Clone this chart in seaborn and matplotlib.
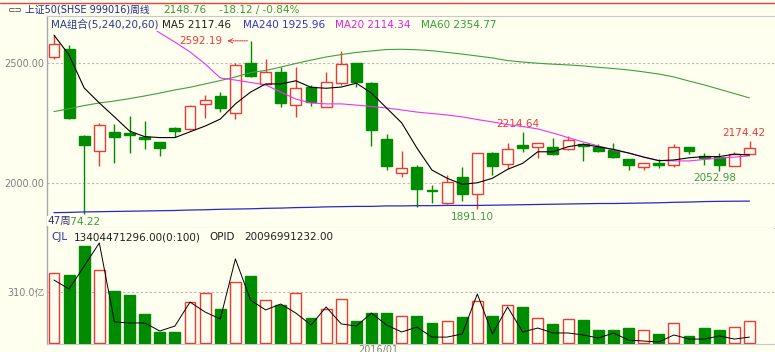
import numpy as np
import pandas as pd
import matplotlib
matplotlib.use("Agg")
import matplotlib.pyplot as plt
import seaborn as sns

# weekly candles, 上证50 (SHSE 999016)
opens = [2524, 2558, 2197, 2134, 2214, 2208, 2191, 2170, 2231, 2224,
         2330, 2364, 2293, 2499, 2411, 2464, 2325, 2399, 2318, 2416,
         2499, 2418, 2183, 2042, 2069, 1972, 1917, 2027, 1954, 2125,
         2079, 2158, 2152, 2152, 2141, 2163, 2152, 2138, 2100, 2069,
         2083, 2076, 2150, 2113, 2108, 2073, 2122]
highs = [2615, 2575, 2201, 2249, 2246, 2280, 2260, 2173, 2235, 2324,
         2367, 2381, 2501, 2592.19, 2515, 2482, 2482, 2409, 2464, 2551,
         2502, 2420, 2205, 2135, 2076, 1992, 2034, 2066, 2127, 2131,
         2166, 2214.64, 2169, 2187, 2197, 2169, 2162, 2166, 2101, 2084,
         2100, 2162, 2152, 2127, 2127, 2131, 2174.42]
lows = [2515, 2266, 1874.22, 2072, 2083, 2127, 2143, 2113, 2191, 2221,
        2270, 2298, 2266, 2443, 2408, 2318, 2277, 2321, 2316, 2409,
        2399, 2155, 2055, 2025, 1903, 1917, 1915, 1928, 1891.10, 2034,
        2058, 2131, 2104, 2118, 2138, 2094, 2131, 2104, 2055, 2055,
        2062, 2066, 2122, 2076, 2052.98, 2072, 2121]
closes = [2579, 2270, 2159, 2242, 2194, 2200, 2186, 2145, 2216, 2321,
          2345, 2312, 2492, 2447, 2464, 2335, 2397, 2339, 2420, 2495,
          2420, 2222, 2072, 2062, 1975, 1967, 2004, 1956, 2125, 2073,
          2141, 2147, 2166, 2122, 2180, 2156, 2134, 2108, 2076, 2083,
          2075, 2152, 2133, 2105, 2076, 2122, 2148.76]

ma5 = [2616, 2533, 2396, 2334, 2276, 2217, 2194, 2190, 2190, 2214,
       2238, 2267, 2330, 2379, 2413, 2413, 2426, 2399, 2395, 2400,
       2416, 2375, 2313, 2251, 2147, 2055, 2021, 1996, 2002, 2021,
       2058, 2083, 2131, 2131, 2152, 2162, 2152, 2141, 2126, 2109,
       2094, 2097, 2106, 2111, 2111, 2121, 2117.46]
ma20 = [np.nan] * 6 + [
        2666, 2625, 2587, 2546,
        2496, 2438, 2429, 2419, 2409, 2379, 2350, 2334, 2330, 2330,
        2325, 2319, 2313, 2305, 2296, 2290, 2284, 2276, 2265, 2255,
        2244, 2236, 2226, 2209, 2190, 2172, 2155, 2138, 2126, 2109,
        2095, 2093, 2093, 2099, 2105, 2109, 2114.34]
ma60 = [2298, 2310, 2323, 2334, 2342, 2352, 2363, 2375, 2388, 2399,
        2413, 2427, 2442, 2460, 2469, 2483, 2498, 2512, 2525, 2535,
        2544, 2550, 2556, 2557, 2555, 2551, 2544, 2537, 2529, 2521,
        2510, 2504, 2499, 2495, 2492, 2488, 2482, 2477, 2471, 2463,
        2454, 2442, 2425, 2409, 2391, 2373, 2354.77]
ma240 = [1878, 1879, 1881, 1882, 1883, 1884, 1885, 1886, 1887, 1889,
         1890, 1892, 1893, 1894, 1896, 1897, 1899, 1900, 1902, 1903,
         1904, 1904, 1906, 1906, 1907, 1907, 1908, 1908, 1908, 1909,
         1910, 1911, 1912, 1913, 1914, 1915, 1916, 1916, 1917, 1918,
         1919, 1921, 1922, 1924, 1925, 1925.5, 1925.96]

# 成交量 (亿)
volume = [426, 413, 590, 444, 316, 292, 176, 67, 67, 249,
          304, 207, 371, 407, 261, 231, 304, 152, 207, 268,
          134, 182, 182, 164, 164, 122, 134, 158, 255, 164,
          231, 219, 152, 116, 146, 140, 79, 79, 91, 79,
          55, 122, 43, 91, 79, 97, 134]
vol_line = [383, 328, 468, 608, 128, 122, 122, 73, 103, 249,
            188, 146, 511, 261, 201, 237, 182, 109, 219, 116,
            103, 182, 109, 67, 97, 36, 36, 55, 298, 55,
            219, 67, 91, 61, 61, 49, 30, 61, 18, 12,
            6, 49, 24, 24, 43, 24, 36]

bg = "#fffff0"
red = "#f03838"
green = "#008c00"
lbl_green = "#3c9c3c"
grey = "#808080"

sns.set_style("white")
plt.rcParams["font.family"] = ["DejaVu Sans", "Noto Sans CJK SC"]

W, H = 775, 352
fig = plt.figure(figsize=(W / 100, H / 100), dpi=100, facecolor=bg)


def box(l, t, r, b):
    return [l / W, 1 - b / H, (r - l) / W, (b - t) / H]


def ftext(x, y, s, color, size=7.5, **kw):
    return fig.text(x / W, 1 - y / H, s, color=color, fontsize=size, va="center", **kw)


ax = fig.add_axes(box(47, 16, 774, 228))
axv = fig.add_axes(box(47, 228, 774, 344))
for a in (ax, axv):
    a.set_facecolor(bg)

idx = np.arange(len(opens))
df = pd.DataFrame({"week": idx, "MA5": ma5, "MA20": ma20, "MA60": ma60,
                   "MA240": ma240, "vol": volume, "vol_line": vol_line})

# candles
for i in idx:
    o, h, l, c = opens[i], highs[i], lows[i], closes[i]
    up = c >= o
    col = red if up else green
    ax.vlines(i, l, h, color=col, lw=1, zorder=2)
    lo, hi = min(o, c), max(o, c)
    ax.bar(i, max(hi - lo, 3), bottom=lo, width=0.72,
           facecolor=bg if up else green, edgecolor=col, lw=1, zorder=3)

sns.lineplot(data=df, x="week", y="MA60", ax=ax, color="#3ea03e", lw=0.8, zorder=4)
sns.lineplot(data=df, x="week", y="MA240", ax=ax, color="#2828c8", lw=0.9, zorder=4)
sns.lineplot(data=df, x="week", y="MA20", ax=ax, color="#f030f0", lw=0.8, zorder=4)
sns.lineplot(data=df, x="week", y="MA5", ax=ax, color="black", lw=0.8, zorder=5)

for v in (2000, 2500):
    ax.axhline(v, color="#b8b8b8", lw=0.8, ls=(0, (2, 2)), zorder=1)

ax.set_xlim(-0.46, 47.62)
ax.set_ylim(1814.2, 2695.3)
ax.set_xticks([])
ax.set_yticks([2000, 2500])
ax.set_yticklabels(["2000.00", "2500.00"])
ax.tick_params(axis="y", length=0, pad=2, labelsize=7, labelcolor=grey)
ax.set_xlabel("")
ax.set_ylabel("")

# annotations
ax.annotate("2592.19", xy=(12.85, 2592.19), xytext=(11.15, 2592.19),
            ha="right", va="center", color=red, fontsize=7.5,
            arrowprops=dict(arrowstyle="<-", color=red, lw=0.8, ls=(0, (1, 1)),
                            shrinkA=1, shrinkB=0))
ax.text(30.65, 2246, "2214.64", color=red, fontsize=7.5, ha="center", va="center")
ax.text(45.6, 2207, "2174.42", color=red, fontsize=7.5, ha="center", va="center")
ax.text(43.7, 2024, "2052.98", color=lbl_green, fontsize=7.5, ha="center", va="center")
ax.text(27.65, 1858, "1891.10", color=lbl_green, fontsize=7.5, ha="center", va="center")
ax.text(1.65, 1841, "1874.22", color=lbl_green, fontsize=7.5, ha="center", va="center")
ax.text(-0.45, 1843, "47周", color="#34347c", fontsize=7.5, ha="left", va="center",
        bbox=dict(facecolor=bg, edgecolor="none", pad=0))

# volume panel
for i in idx:
    up = closes[i] >= opens[i]
    col = red if up else green
    axv.bar(i, volume[i], width=0.72, facecolor=bg if up else green,
            edgecolor=col, lw=1, zorder=3)
sns.lineplot(data=df, x="week", y="vol_line", ax=axv, color="black", lw=0.7, zorder=4)
axv.axhline(310, color="#b8b8b8", lw=0.8, ls=(0, (2, 2)), zorder=1)
axv.set_xlim(-0.46, 47.62)
axv.set_ylim(-6, 699)
axv.set_xticks([])
axv.set_yticks([310])
axv.set_yticklabels(["310.0亿"])
axv.tick_params(axis="y", length=0, pad=2, labelsize=7, labelcolor=grey)
axv.set_xlabel("")
axv.set_ylabel("")

for a in (ax, axv):
    a.spines["right"].set_visible(False)
    a.spines["left"].set_color("#a8a8a8")
    a.spines["left"].set_linewidth(1)
ax.spines["top"].set_color("#c8c8c8")
ax.spines["bottom"].set_color("#c0c0c0")
axv.spines["top"].set_visible(False)
axv.spines["bottom"].set_color("#c8c8c8")

# header rows
fig.add_artist(plt.Line2D([0, 1], [1 - 2.5 / H, 1 - 2.5 / H], color="#e84040", lw=1))
ftext(7, 10, "⊂⊃", "#404040", size=6.5)
ftext(25, 10, "上证50(SHSE 999016)周线", "#1c2a8c", size=7)
ftext(163, 10, "2148.76", lbl_green)
ftext(219, 10, "-18.12 / -0.84%", lbl_green)

box_kw = dict(facecolor=bg, edgecolor="none", pad=1)
ftext(51, 24.5, "MA组合(5,240,20,60)", "#2a3a8c", bbox=box_kw)
ftext(162, 24.5, "MA5 2117.46", "#202020", bbox=box_kw)
ftext(243, 24.5, "MA240 1925.96", "#3030d0", bbox=box_kw)
ftext(335, 24.5, "MA20 2114.34", "#e020e0", bbox=box_kw)
ftext(421, 24.5, "MA60 2354.77", "#30a030", bbox=box_kw)

ftext(51, 237.5, "CJL", "#3030a0")
ftext(74, 237.5, "13404471296.00(0:100)", "#202020")
ftext(209, 237.5, "OPID", "#202020")
ftext(244, 237.5, "20096991232.00", "#202020")
ftext(358, 349.5, "2016/01", grey, size=7)

fig.savefig("out.png", dpi=100, facecolor=bg)
